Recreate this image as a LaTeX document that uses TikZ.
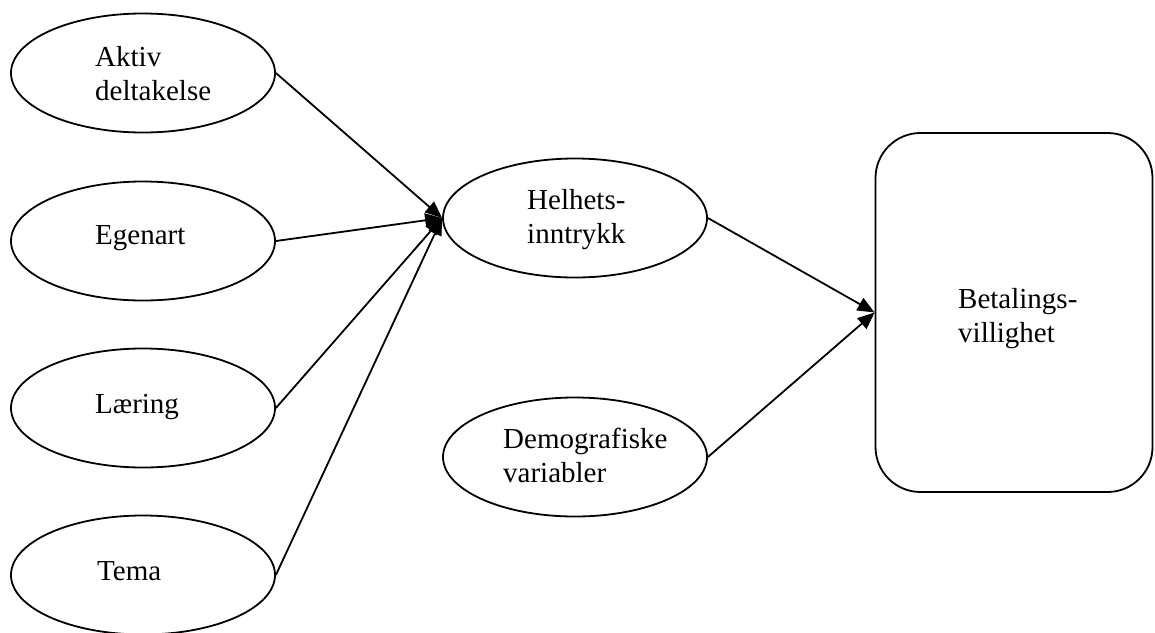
\documentclass[tikz,border=0pt]{standalone}
\usepackage{fontspec}
\setmainfont{Liberation Serif}
\usetikzlibrary{shapes.geometric,arrows.meta}
\begin{document}
\begin{tikzpicture}[x=1pt,y=-1pt,
  oval/.style={draw,ellipse,line width=1.8pt,minimum width=264pt,minimum height=119pt,inner sep=0pt},
  goalbox/.style={draw,rectangle,rounded corners=45pt,line width=1.8pt,minimum width=277pt,minimum height=359pt,inner sep=0pt},
  lbl/.style={anchor=base west,inner sep=0pt,align=left,font=\fontsize{29}{34}\selectfont},
  link/.style={line width=1.8pt,-{Triangle[length=17pt,width=14pt]}}]
\useasboundingbox (0,0) rectangle (1155,632);

% factor ellipses on the left
\node[oval] (aktiv)  at (143,73)  {};
\node[oval] (egen)   at (143,241) {};
\node[oval] (laer)   at (143,408) {};
\node[oval] (tema)   at (143,575) {};

% middle ellipses
\node[oval] (helhet) at (575,218) {};
\node[oval] (demo)   at (575,457) {};

% outcome box
\node[goalbox] (betal) at (1014,312.5) {};

% labels (multi-line labels anchored on the baseline of their last line)
\node[lbl] (taktiv)  at (95,100)  {Aktiv\\deltakelse};
\node[lbl] (tegen)   at (95,244)  {Egenart};
\node[lbl] (tlaer)   at (95,413)  {Læring};
\node[lbl] (ttema)   at (97,580)  {Tema};
\node[lbl] (thelhet) at (527,243) {Helhets-\\inntrykk};
\node[lbl] (tdemo)   at (503,482) {Demografiske\\variabler};
\node[lbl] (tbetal)  at (958,342) {Betalings-\\villighet};

% connectors
\draw[link] (aktiv.east) -- (helhet.west);
\draw[link] (egen.east)  -- (helhet.west);
\draw[link] (laer.east)  -- (helhet.west);
\draw[link] (tema.east)  -- (helhet.west);
\draw[link] (helhet.east) -- (betal.west);
\draw[link] (demo.east)   -- (betal.west);
\end{tikzpicture}
\end{document}
